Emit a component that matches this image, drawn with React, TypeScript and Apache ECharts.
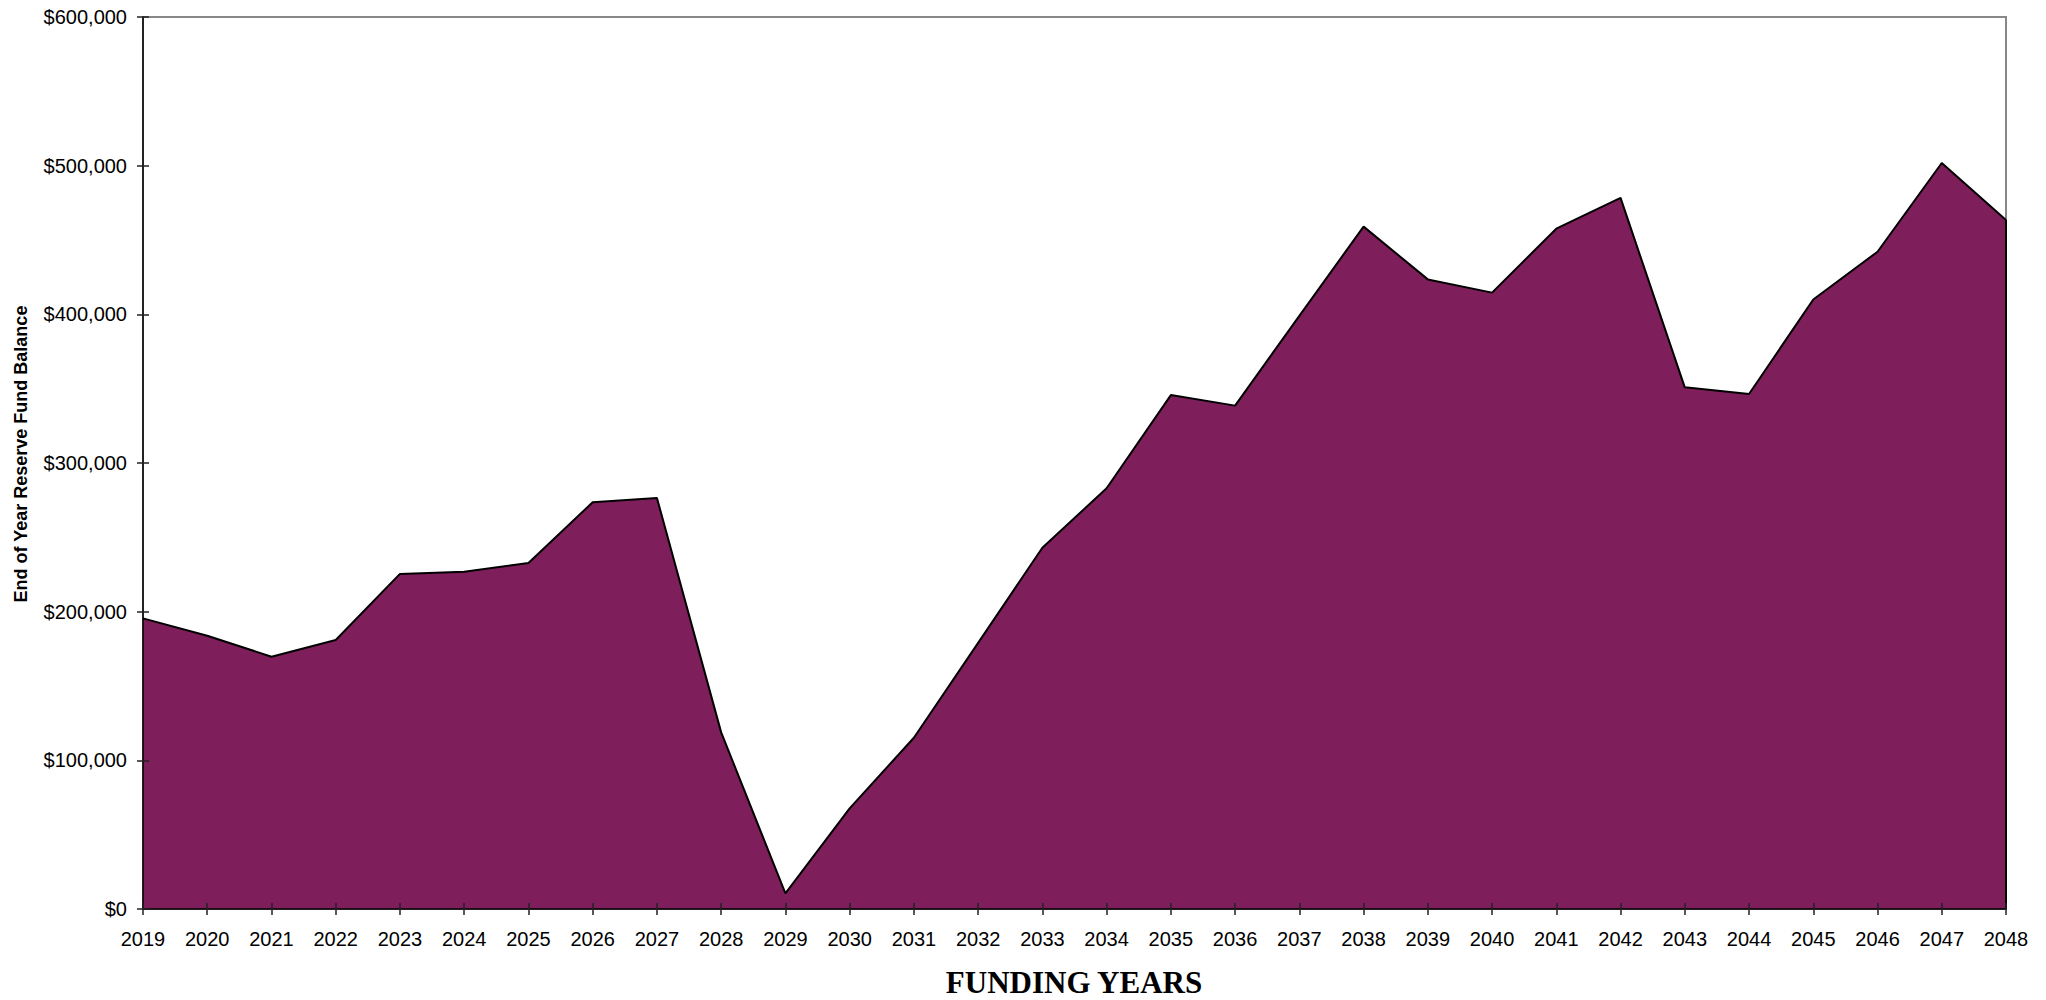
import React, { useEffect, useRef } from "react";
import * as echarts from "echarts";

const years: string[] = [
  "2019", "2020", "2021", "2022", "2023", "2024", "2025", "2026", "2027", "2028",
  "2029", "2030", "2031", "2032", "2033", "2034", "2035", "2036", "2037", "2038",
  "2039", "2040", "2041", "2042", "2043", "2044", "2045", "2046", "2047", "2048",
];

const balances: number[] = [
  195500, 183800, 169700, 180900, 225400, 226900, 232700, 273600, 276500, 118800,
  10500, 67700, 115200, 179000, 243000, 283000, 345700, 338600, 399000, 459000,
  423500, 414600, 457600, 478300, 350900, 346400, 410000, 442100, 501800, 463400,
];

const yMin = 0;
const yMax = 600000;
const yStep = 100000;

const xTitle = "FUNDING YEARS";
const yTitle = "End of Year Reserve Fund Balance";

const FILL = "#7E1F5B";
const SANS = "'Liberation Sans', Arial, sans-serif";
const SERIF = "'Liberation Serif', 'Times New Roman', serif";

export default function App() {
  const ref = useRef<HTMLDivElement>(null);

  useEffect(() => {
    if (!ref.current) return;
    const chart = echarts.init(ref.current, undefined, { renderer: "svg" });
    const lastIdx = years.length - 1;
    const gridRect = { left: 143, right: 40, top: 17, bottom: 91, containLabel: false };
    const tickStyle = { color: "#222", width: 1.5 };
    const option: any = {
      animation: false,
      backgroundColor: "#ffffff",
      grid: [
        { ...gridRect, show: true, borderColor: "#888", borderWidth: 2, backgroundColor: "transparent" },
        { ...gridRect },
      ],
      xAxis: [
        {
          type: "category",
          gridIndex: 0,
          data: years,
          boundaryGap: false,
          position: "bottom",
          z: 5,
          axisLine: { show: true, lineStyle: { color: "#000", width: 1.5 } },
          axisTick: { show: true, inside: false, length: 6, interval: 0, lineStyle: tickStyle },
          axisLabel: { show: true, color: "#000", fontSize: 20, fontFamily: SANS, margin: 20, interval: 0 },
          splitLine: { show: false },
        },
        {
          type: "category",
          gridIndex: 1,
          data: years,
          boundaryGap: false,
          position: "bottom",
          z: 5,
          axisLine: { show: false },
          axisTick: { show: true, inside: true, length: 6, interval: 0, lineStyle: tickStyle },
          axisLabel: { show: false },
          splitLine: { show: false },
        },
      ],
      yAxis: [
        {
          type: "value",
          gridIndex: 0,
          min: yMin,
          max: yMax,
          interval: yStep,
          position: "left",
          z: 5,
          axisLine: { show: true, lineStyle: { color: "#000", width: 1.5 } },
          axisTick: { show: true, inside: false, length: 6, lineStyle: tickStyle },
          axisLabel: {
            show: true,
            color: "#000",
            fontSize: 20,
            fontFamily: SANS,
            margin: 16,
            formatter: (v: number) => "$" + v.toLocaleString("en-US"),
          },
          splitLine: { show: false },
        },
        {
          type: "value",
          gridIndex: 1,
          min: yMin,
          max: yMax,
          interval: yStep,
          position: "left",
          z: 5,
          axisLine: { show: false },
          axisTick: { show: true, inside: true, length: 6, lineStyle: tickStyle },
          axisLabel: { show: false },
          splitLine: { show: false },
        },
      ],
      series: [
        {
          type: "line",
          data: balances,
          xAxisIndex: 0,
          yAxisIndex: 0,
          z: 2,
          symbol: "none",
          showSymbol: false,
          lineStyle: { color: "#000", width: 2 },
          areaStyle: { color: FILL, opacity: 1 },
          markLine: {
            silent: true,
            symbol: ["none", "none"],
            label: { show: false },
            lineStyle: { color: "#000", width: 2, type: "solid" },
            data: [
              [
                { coord: [years[lastIdx], 0] },
                { coord: [years[lastIdx], balances[lastIdx]] },
              ],
            ],
          },
        },
      ],
      graphic: [
        {
          type: "text",
          x: 21,
          y: 454,
          rotation: Math.PI / 2,
          style: {
            text: yTitle,
            fill: "#000",
            font: `bold 18px ${SANS}`,
            textAlign: "center",
            textVerticalAlign: "middle",
          },
        },
        {
          type: "text",
          x: 1074,
          y: 982,
          style: {
            text: xTitle,
            fill: "#000",
            font: `bold 31px ${SERIF}`,
            textAlign: "center",
            textVerticalAlign: "middle",
          },
        },
      ],
    };
    chart.setOption(option);
    return () => chart.dispose();
  }, []);

  return (
    <div
      ref={ref}
      style={{ position: "fixed", left: 0, top: 0, width: 2046, height: 1000 }}
    />
  );
}
